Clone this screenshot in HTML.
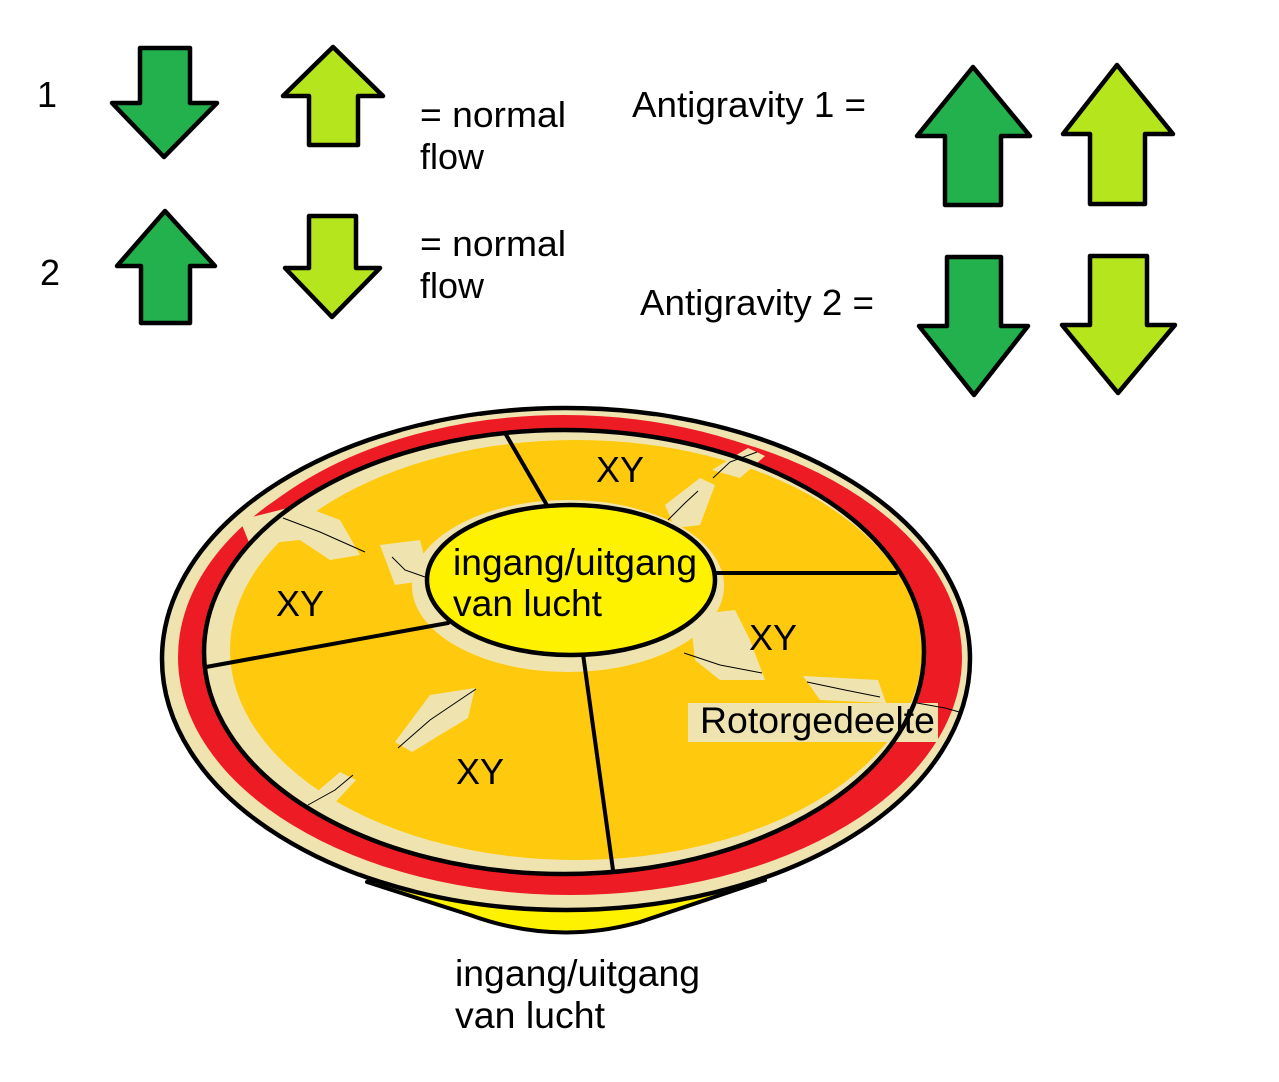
<!DOCTYPE html>
<html>
<head>
<meta charset="utf-8">
<style>
html,body{margin:0;padding:0;background:#fff;}
svg{display:block;}
text{font-family:"Liberation Sans",Arial,sans-serif;fill:#000;}
</style>
</head>
<body>
<svg width="1279" height="1082" viewBox="0 0 1279 1082" xmlns="http://www.w3.org/2000/svg">
<defs>
  <clipPath id="outerclip"><ellipse cx="566" cy="659" rx="402" ry="249"/></clipPath>
</defs>
<rect x="0" y="0" width="1279" height="1082" fill="#fff"/>

<!-- Legend arrows -->
<g stroke="#000" stroke-width="4.5" stroke-linejoin="round">
  <polygon fill="#22b14c" points="140,48 190,48 190,103 217,103 164,157 112,103 140,103"/>
  <polygon fill="#b5e61d" points="333,47 383,96 358,96 358,145 309,145 309,96 283,96"/>
  <polygon fill="#22b14c" points="165,211 215,266 190,266 190,323 141,323 141,266 117,266"/>
  <polygon fill="#b5e61d" points="309,216 356,216 356,268 380,268 332,317 285,268 309,268"/>
  <polygon fill="#22b14c" points="973,67 1030,136 1001,136 1001,205 945,205 945,136 917,136"/>
  <polygon fill="#b5e61d" points="1117,65 1173,134 1145,134 1145,204 1090,204 1090,134 1063,134"/>
  <polygon fill="#22b14c" points="947,257 1001,257 1001,326 1028,326 974,395 919,326 947,326"/>
  <polygon fill="#b5e61d" points="1090,256 1147,256 1147,325 1175,325 1118,393 1062,325 1090,325"/>
</g>

<!-- Legend text -->
<g font-size="36">
  <text x="37" y="107">1</text>
  <text x="40" y="285">2</text>
  <text x="420" y="127" textLength="146" lengthAdjust="spacingAndGlyphs">= normal</text>
  <text x="420" y="169">flow</text>
  <text x="420" y="256" textLength="146" lengthAdjust="spacingAndGlyphs">= normal</text>
  <text x="420" y="298">flow</text>
  <text x="632" y="117" textLength="234" lengthAdjust="spacingAndGlyphs">Antigravity 1 =</text>
  <text x="640" y="315" textLength="234" lengthAdjust="spacingAndGlyphs">Antigravity 2 =</text>
</g>

<!-- Bottom yellow lens -->
<path d="M367 882 L470 915 Q555 946 640 922 L765 880 Z" fill="#fff200" stroke="#000" stroke-width="4" stroke-linejoin="round"/>

<!-- Outer ellipse -->
<ellipse cx="566" cy="659" rx="404" ry="251" fill="#efe4b0" stroke="#000" stroke-width="4.5"/>
<!-- Red ring -->
<ellipse cx="570" cy="657" rx="392" ry="238" fill="#ed1c24"/>
<!-- beige stair notches on red ring, clipped -->
<g fill="#efe4b0" clip-path="url(#outerclip)">
  <path d="M160 560 L182 560 L182 540 L195 540 L195 520 L212 520 L212 500 L235 500 L235 482 L262 482 L262 466 L295 466 L295 452 L330 452 L330 442 L370 442 L370 432 L420 432 L420 424 L480 424 L480 400 L160 400 Z"/>
  <path d="M160 730 L180 730 L180 760 L195 760 L195 790 L215 790 L215 815 L240 815 L240 835 L270 835 L270 852 L310 852 L310 868 L360 868 L360 882 L160 900 Z"/>
  <path d="M820 884 L820 872 L860 872 L860 860 L890 860 L890 842 L912 842 L912 822 L930 822 L930 800 L944 800 L944 775 L980 775 L980 900 Z"/>
  <path d="M655 400 L655 419 L720 419 L720 427 L770 427 L770 437 L810 437 L810 449 L840 449 L840 462 L980 462 L980 400 Z"/>
</g>
<!-- guaranteed red band along inner edge -->
<ellipse cx="564" cy="652" rx="368" ry="230" fill="none" stroke="#ed1c24" stroke-width="14"/>

<!-- Inner ellipse -->
<ellipse cx="564" cy="652" rx="360" ry="222" fill="#efe4b0"/>
<ellipse cx="576" cy="650" rx="346" ry="210" fill="#ffc90e"/>
<!-- beige patches inside -->
<g fill="#efe4b0">
  <ellipse cx="568" cy="586" rx="156" ry="86"/>
  <path d="M240 520 L300 505 L340 520 L360 555 L330 560 L300 540 L250 545 Z"/>
  <path d="M380 545 L420 540 L430 580 L395 585 Z"/>
  <path d="M690 615 L735 610 L750 640 L765 680 L720 680 L695 660 Z"/>
  <path d="M665 505 L700 478 L715 485 L700 525 L675 528 Z"/>
  <path d="M712 470 L748 448 L765 456 L740 478 Z"/>
  <path d="M395 742 L430 695 L475 688 L468 718 L412 752 Z"/>
  <path d="M305 802 L340 772 L356 780 L330 808 Z"/>
  <path d="M803 676 L878 680 L886 703 L820 700 Z"/>
  <rect x="688" y="703" width="250" height="39"/>
</g>

<!-- crack lines -->
<g stroke="#000" stroke-width="1" fill="none">
  <path d="M283 518 L320 532 L365 552"/>
  <path d="M392 557 L405 570 L425 577"/>
  <path d="M398 748 L430 720 L476 689"/>
  <path d="M308 805 L335 790 L353 775"/>
  <path d="M668 520 L685 503 L698 491"/>
  <path d="M713 478 L730 462 L757 452"/>
  <path d="M684 653 L720 665 L762 673"/>
  <path d="M807 682 L845 690 L880 697"/>
  <path d="M917 703 L945 708 L963 713"/>
</g>

<!-- Inner ellipse outline -->
<ellipse cx="564" cy="652" rx="360" ry="222" fill="none" stroke="#000" stroke-width="4.5"/>

<!-- segment lines -->
<g stroke="#000" stroke-width="4" stroke-linecap="round">
  <line x1="505" y1="433" x2="548" y2="507"/>
  <line x1="715" y1="573" x2="896" y2="573"/>
  <line x1="448" y1="623" x2="206" y2="667"/>
  <line x1="583" y1="654" x2="613" y2="870"/>
</g>

<!-- central ellipse -->
<ellipse cx="571" cy="580" rx="144" ry="75" fill="#fff200" stroke="#000" stroke-width="4.5"/>

<!-- labels -->
<g font-size="37">
  <text x="453" y="575" textLength="244" lengthAdjust="spacingAndGlyphs">ingang/uitgang</text>
  <text x="453" y="616" textLength="149" lengthAdjust="spacingAndGlyphs">van lucht</text>
  <text x="700" y="733" textLength="235" lengthAdjust="spacingAndGlyphs">Rotorgedeelte</text>
  <text x="455" y="986" textLength="245" lengthAdjust="spacingAndGlyphs">ingang/uitgang</text>
  <text x="455" y="1028" textLength="150" lengthAdjust="spacingAndGlyphs">van lucht</text>
</g>
<g font-size="36">
  <text x="596" y="482">XY</text>
  <text x="276" y="616">XY</text>
  <text x="749" y="650">XY</text>
  <text x="456" y="784">XY</text>
</g>
</svg>
</body>
</html>
